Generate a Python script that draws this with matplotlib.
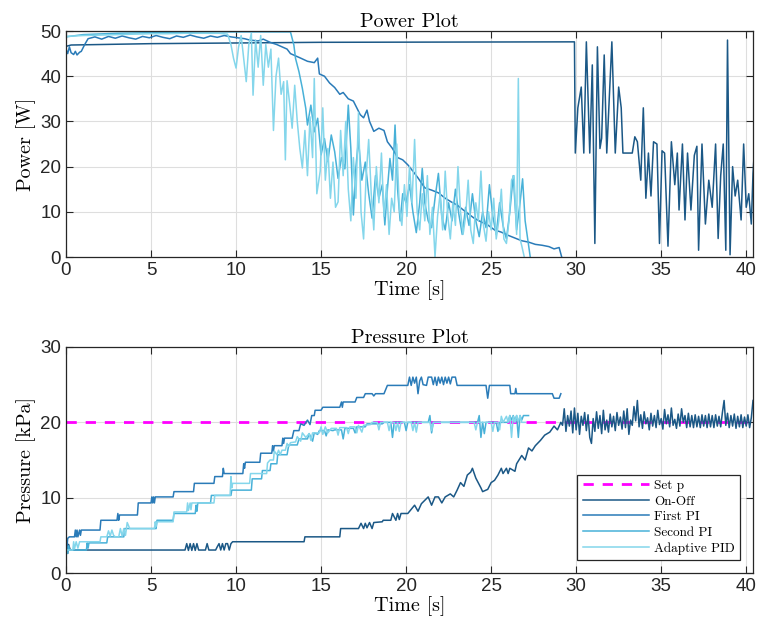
import numpy as np
import matplotlib
matplotlib.use("Agg")
import matplotlib.pyplot as plt

plt.rcParams['font.family'] = ['Liberation Sans', 'DejaVu Sans']
serif = ['cmr10', 'DejaVu Serif']

labels = ["Set p", "On-Off", "First PI", "Second PI", "Adaptive PID"]
colors = ["#ff00ff", "#1b5886", "#2a7bb8", "#48b1d8", "#84d6eb"]
setpoint = 20

# ---------------- Power [W] ----------------
onoff_pw_t = [0, 0.3, 5, 15, 29.9, 29.95, 30.1, 30.3, 30.45, 30.6, 30.8, 30.95, 31.1, 31.25,
              31.4, 31.5, 31.65, 31.8, 32.1, 32.3, 32.5, 32.65, 32.75, 33.3, 33.45, 33.6, 33.8,
              33.95, 34.1, 34.25, 34.4, 34.55, 34.75, 34.9, 35.05, 35.2, 35.4, 35.6, 35.8, 35.95,
              36.05, 36.25, 36.4, 36.55, 36.75, 36.95, 37.1, 37.2, 37.4, 37.6, 37.8, 38.0, 38.2,
              38.35, 38.5, 38.65, 38.8, 38.9, 39.05, 39.2, 39.35, 39.5, 39.7, 39.85, 40.0, 40.15,
              40.3, 40.4, 40.55]
onoff_pw_v = [46.6, 46.9, 47.2, 47.5, 47.6, 23, 33, 37.6, 23, 47.6, 23, 42.5, 3, 46.5,
              24, 26.3, 44.7, 23, 47.6, 23, 37.6, 33, 23, 23, 26.6, 25.5, 17,
              33, 13, 23, 13.5, 25.5, 25, 3, 23.5, 23, 2.4, 25.5, 16, 23,
              10.4, 25, 8.2, 23, 10.4, 22.5, 24.5, 1.5, 25, 7.3, 17, 11, 25,
              4.1, 18, 25, 1.5, 48, 0.5, 20, 13.5, 17, 8.2, 25, 11, 14,
              7.3, 18.5, 27.7]

first_pw_t = [0, 0.1, 0.2, 0.3, 0.45, 0.55, 0.65, 0.8, 0.9, 1.1, 1.3, 1.7, 2.1, 2.5, 2.9, 3.3,
              3.7, 4.1, 4.5, 4.9, 5.3, 5.7, 6.1, 6.5, 6.9, 7.3, 7.7, 8.1, 8.5, 8.9, 9.3, 9.7,
              10.1, 10.5, 10.8, 11.3, 11.6, 12.0, 12.4, 12.7, 13.0, 13.2, 13.5, 13.8, 14.2, 14.6,
              14.8, 14.9, 15.2, 15.5, 15.8, 16.1, 16.3, 16.6, 16.9, 17.1, 17.3, 17.5, 17.7, 17.85,
              18.1, 18.4, 18.7, 18.9, 19.2, 19.5, 19.8, 20.1, 20.4, 20.7, 21.1, 21.5, 21.9, 22.3,
              22.65, 23.0, 23.5, 24.0, 24.4, 24.8, 25.2, 25.6, 26.0, 26.4, 26.8, 27.2, 27.6, 28.0,
              28.4, 28.7, 29.0, 29.15]
first_pw_v = [46.0, 45.0, 46.5, 45.2, 44.8, 45.5, 44.7, 45.3, 45.5, 47.0, 48.3, 48.7, 48.2, 48.8, 48.4, 48.9,
              48.5, 48.2, 48.8, 48.5, 49.0, 48.6, 48.3, 48.9, 48.6, 49.1, 48.7, 48.4, 48.9, 48.6, 49.0, 48.7,
              48.5, 48.3, 48.0, 47.8, 48.2, 47.5, 47.0, 46.5, 46.0, 45.0, 44.5, 44.0, 43.3, 43.0,
              44.0, 40.5, 40.0, 38.5, 37.5, 36.0, 36.4, 35.0, 34.5, 33.0, 31.5, 30.8, 32.5, 30.0,
              27.8, 28.5, 28.0, 25.5, 24.0, 22.0, 21.5, 20.4, 19.0, 17.5, 15.3, 14.8, 14.2, 13.0,
              12.2, 11.5, 10.0, 8.6, 7.8, 7.1, 6.0, 5.5, 4.8, 4.2, 3.6, 3.3, 2.8, 2.6,
              2.3, 1.8, 2.1, 0.0]

second_pw_t = [0, 1, 3, 6, 9, 13.2, 13.4, 13.5, 13.7, 13.9, 14.1, 14.2, 14.4, 14.6, 14.8, 15.0,
               15.2, 15.4, 15.6, 15.8, 16.0, 16.2, 16.4, 16.6, 16.75, 16.9, 17.05, 17.2, 17.4,
               17.6, 17.8, 18.0, 18.2, 18.4, 18.6, 18.75, 18.9, 19.05, 19.2, 19.35, 19.5, 19.65,
               19.8, 20.0, 20.2, 20.4, 20.6, 20.8, 20.95, 21.1, 21.3, 21.5, 21.7, 21.9, 22.1,
               22.3, 22.5, 22.7, 22.9, 23.1, 23.3, 23.5, 23.7, 23.9, 24.1, 24.3, 24.5, 24.7,
               24.9, 25.1, 25.3, 25.5, 25.7, 25.9, 26.1, 26.3, 26.5, 26.7, 26.85, 27.0, 27.3]
second_pw_v = [48.7, 49.2, 49.5, 49.7, 49.8, 49.8, 46.9, 43.9, 41.0, 37.3, 32.9, 29.2, 33.6, 27.7, 30.7, 22.6,
               26.2, 21.1, 27.0, 23.3, 17.4, 22.0, 19.5, 33.6, 24.0, 9.3, 20.0, 26.0, 17.0,
               21.0, 14.0, 8.6, 18.0, 13.0, 16.0, 7.1, 15.0, 21.8, 17.0, 29.2, 15.0, 8.0,
               14.0, 12.0, 16.0, 10.0, 5.4, 12.0, 19.6, 12.0, 8.0, 6.5, 13.0, 18.5, 9.0,
               6.0, 12.0, 8.0, 15.0, 9.5, 5.0, 11.0, 7.0, 14.0, 8.0, 4.5, 10.0, 6.5,
               16.0, 9.0, 5.0, 12.0, 7.0, 4.0, 10.0, 18.0, 6.0, 12.0, 17.3, 8.0, 0.0]

adapt_pw_t = [0, 0.5, 1, 2, 3, 4, 5, 6, 7, 8, 9, 9.5, 9.7, 9.85, 10.0, 10.15, 10.3, 10.45,
              10.6, 10.75, 10.9, 11.0, 11.15, 11.3, 11.45, 11.6, 11.75, 11.9, 12.05, 12.2, 12.35,
              12.5, 12.65, 12.8, 12.9, 13.0, 13.15, 13.3, 13.45, 13.6, 13.75, 13.9, 14.05, 14.2,
              14.35, 14.5, 14.6, 14.75, 14.95, 15.1, 15.25, 15.4, 15.55, 15.7, 15.85, 16.0, 16.15,
              16.3, 16.45, 16.6, 16.75, 16.9, 17.05, 17.2, 17.35, 17.5, 17.65, 17.8, 17.95, 18.1,
              18.25, 18.4, 18.55, 18.7, 18.85, 19.0, 19.15, 19.3, 19.45, 19.6, 19.75, 19.9, 20.05,
              20.2, 20.35, 20.5, 20.65, 20.8, 20.95, 21.1, 21.25, 21.4, 21.55, 21.7, 21.85, 22.0,
              22.15, 22.3, 22.45, 22.6, 22.75, 22.9, 23.05, 23.2, 23.35, 23.5, 23.65, 23.8, 23.95,
              24.1, 24.25, 24.4, 24.55, 24.7, 24.85, 25.0, 25.15, 25.3, 25.45, 25.6, 25.75, 25.9,
              26.05, 26.2, 26.35, 26.5, 26.6, 26.7, 26.8, 26.95]
adapt_pw_v = [48.8, 48.9, 49.0, 49.1, 49.2, 49.3, 49.4, 49.4, 49.5, 49.5, 49.5, 49.3, 47.0, 44.0, 41.8, 46.5, 49.0, 44.0,
              38.8, 47.0, 49.5, 35.8, 48.0, 42.0, 49.0, 38.0, 47.0, 42.0, 46.0, 28.0, 40.0,
              44.0, 36.0, 38.8, 21.5, 39.0, 34.0, 28.5, 38.0, 30.0, 24.0, 19.7, 28.0, 18.0,
              31.0, 22.0, 39.5, 14.0, 19.0, 33.0, 17.0, 24.0, 13.0, 21.0, 11.0, 12.2, 28.0,
              18.0, 30.0, 15.0, 8.0, 22.0, 13.0, 32.0, 10.0, 4.0, 18.0, 26.0, 14.0, 6.0,
              20.0, 12.0, 23.0, 9.0, 16.0, 5.0, 13.0, 10.0, 25.0, 11.0, 7.0, 16.0, 9.0,
              20.0, 12.0, 26.0, 10.0, 6.0, 14.0, 8.0, 18.0, 5.0, 11.0, 0.0, 9.0, 14.0,
              6.0, 19.0, 9.0, 4.0, 12.0, 7.0, 20.0, 10.0, 5.0, 9.0, 17.0, 6.0, 3.0,
              12.0, 8.0, 19.0, 7.0, 3.5, 10.0, 6.0, 13.0, 4.0, 8.0, 15.0, 4.0, 3.0,
              8.0, 17.0, 18.0, 5.0, 39.5, 4.0, 2.5, 0.0]

# ---------------- Pressure [kPa] ----------------
onoff_pr_t = [0, 0.05, 0.1, 0.15, 0.25, 7.0, 7.1, 7.2, 7.3, 7.4, 7.5, 7.6, 7.7, 7.8, 8.2, 8.3, 8.4,
              8.8, 8.9, 9.0, 9.1, 9.2, 9.3, 9.4, 9.5, 9.6, 9.7, 9.8, 14.0, 14.05, 16.1, 16.15,
              17.2, 17.35, 17.5, 17.6, 17.7, 17.85, 18.0, 18.1, 18.6, 18.65, 19.1, 19.2, 19.4,
              19.5, 19.6, 19.7, 20.1, 20.5, 20.7, 20.9, 21.3, 21.5, 21.7, 21.9, 22.1, 22.3,
              22.6, 22.8, 23.0, 23.2, 23.4, 23.6, 23.8, 23.9, 24.1, 24.4, 24.5, 24.8, 25.0,
              25.2, 25.4, 25.6, 25.7, 25.9, 26.0, 26.1, 26.4, 26.5, 26.8, 27.0, 27.2, 27.4,
              27.6, 27.9, 28.15, 28.45, 28.7, 28.9, 29.1, 29.2, 29.3, 29.4, 29.5]
onoff_pr_v = [2.5, 4.0, 2.6, 3.8, 3.05, 3.05, 3.9, 3.0, 3.9, 3.0, 3.9, 3.0, 3.9, 3.05, 3.05, 3.9, 3.05,
              3.05, 3.5, 3.9, 3.05, 3.9, 3.05, 3.9, 3.9, 3.05, 3.9, 4.15, 4.15, 4.8, 4.8, 5.9,
              5.9, 6.6, 5.9, 6.6, 6.0, 6.7, 5.9, 6.7, 6.8, 7.0, 7.0, 7.9, 7.0,
              7.9, 7.1, 7.9, 7.9, 9.0, 8.2, 9.2, 10.1, 9.0, 10.1, 10.1, 9.3, 10.1,
              10.5, 10.1, 11.0, 12.0, 11.5, 13.0, 13.4, 13.9, 12.6, 11.3, 10.8, 11.1, 12.0,
              12.3, 13.0, 13.9, 13.2, 13.9, 13.2, 13.9, 13.5, 14.5, 15.6, 15.0, 16.6, 16.2,
              16.9, 17.6, 18.3, 18.7, 19.5, 19.0, 20.0, 19.6, 21.8, 18.8, 20.9]
# sampled every 0.1 s from 29.6 s to 40.4 s
onoff_pr_tail = [19.5, 21.5, 18.6, 21.9, 19.0, 21.2, 18.4, 20.8, 19.6, 21.3,
                 18.9, 21.0, 18.0, 17.2, 20.5, 18.8, 21.4, 19.2, 20.9, 18.5,
                 21.6, 19.0, 20.3, 18.7, 21.1, 19.4, 20.8, 18.9, 21.3, 19.6,
                 20.7, 19.1, 21.5, 19.3, 21.8, 18.4, 20.3, 19.6, 22.1, 20.2,
                 22.9, 19.4, 21.0, 19.2, 21.4, 19.8, 20.6, 19.0, 21.2, 19.5,
                 20.9, 19.3, 21.6, 19.7, 20.5, 19.1, 21.7, 19.8, 21.0, 19.4,
                 21.9, 19.6, 20.4, 19.2, 21.1, 19.5, 21.8, 20.0, 20.9, 19.3,
                 21.2, 19.4, 20.9, 19.3, 21.0, 19.4, 20.8, 19.3, 21.0, 19.5,
                 20.9, 19.3, 21.1, 19.4, 20.9, 19.3, 21.0, 19.5, 20.8, 19.4,
                 21.3, 22.9, 19.6, 21.2, 19.3, 20.9, 19.5, 21.1, 19.2, 20.8,
                 19.4, 21.0, 19.3, 20.7, 19.5, 21.0, 19.3, 20.6, 22.9]

first_pr_t = [0, 0.05, 0.1, 0.2, 0.5, 0.55, 0.6, 0.65, 0.7, 0.8, 0.85, 0.9, 2.0, 2.05, 3.0, 3.05,
              3.1, 3.15, 4.2, 4.25, 5.0, 5.05, 5.1, 5.15, 5.2, 5.25, 6.3, 6.35, 7.5, 7.55, 8.7,
              8.75, 9.2, 9.25, 9.3, 10.4, 10.45, 10.5, 10.55, 11.4, 11.45, 12.1, 12.15, 12.2,
              12.25, 12.7, 12.75, 12.8, 12.85, 13.3, 13.4, 13.7, 13.8, 14.0, 14.2, 14.35, 14.45,
              14.6, 14.65, 15.0, 15.1, 16.1, 16.2, 16.25, 16.3, 17.0, 17.1, 17.5, 17.6, 18.0,
              18.1, 18.2, 18.7, 18.9, 20.1, 20.2, 20.3, 20.4, 20.5, 20.6, 20.7, 20.8, 20.9, 21.0,
              21.2, 21.3, 21.5, 21.6, 21.7, 21.8, 21.9, 22.0, 22.1, 22.2, 22.3, 22.4, 22.5, 22.6,
              22.7, 22.9, 23.0, 24.7, 24.8, 24.9, 26.1, 26.15, 26.4, 26.45, 26.5, 28.6, 28.7,
              29.0, 29.1]
first_pr_v = [4.0, 3.2, 4.6, 4.8, 4.8, 5.7, 4.8, 5.7, 4.8, 5.7, 5.0, 5.7, 5.7, 7.0, 7.0, 7.9,
              7.0, 7.7, 7.7, 9.3, 9.3, 10.1, 9.3, 10.1, 9.3, 10.1, 10.1, 10.8, 10.8, 11.9, 11.9,
              12.8, 12.8, 13.9, 13.2, 13.2, 14.5, 13.9, 14.7, 14.7, 15.9, 15.9, 16.9, 16.2,
              16.9, 16.9, 17.9, 17.2, 17.9, 17.9, 18.9, 18.9, 19.8, 19.6, 20.3, 19.7, 20.9,
              20.9, 21.6, 21.6, 22.0, 22.0, 22.7, 22.0, 22.7, 22.7, 23.3, 23.3, 23.8, 23.8,
              23.5, 23.8, 23.8, 24.9, 24.9, 26.0, 24.9, 26.0, 25.2, 26.0, 23.8, 25.5, 26.0, 25.0,
              24.9, 26.0, 26.0, 25.0, 26.0, 24.9, 26.0, 25.2, 26.0, 25.0, 26.0, 25.2, 26.0, 25.1,
              26.0, 26.0, 24.9, 24.9, 23.2, 24.9, 24.9, 23.8, 23.8, 24.5, 23.8, 23.8, 23.2,
              23.2, 23.8]

second_pr_t = [0, 0.1, 0.15, 0.2, 1.2, 1.25, 1.3, 1.35, 2.4, 2.45, 3.4, 3.45, 5.3, 5.35, 6.3,
               6.35, 7.6, 7.65, 7.7, 7.75, 7.8, 8.5, 8.55, 9.7, 9.75, 10.9, 10.95, 11.5, 11.55,
               12.0, 12.05, 12.4, 12.45, 13.0, 13.1, 13.6, 13.7, 14.2, 14.3, 14.5, 14.6, 14.8,
               14.9, 15.2, 15.3, 15.4, 15.7, 15.8, 16.2, 16.3, 16.4, 16.9, 17.0, 17.1, 17.6, 17.7,
               18.6, 18.7, 19.1, 19.2, 19.3, 19.9, 20.0, 20.1, 21.3, 21.4, 21.5, 21.6, 24.2, 24.3,
               24.4, 24.5, 24.6, 24.7, 25.3, 25.4, 25.5, 26.0, 26.1, 26.2, 26.3, 26.4, 26.5, 26.6,
               26.7, 26.8, 26.9, 27.2]
second_pr_v = [3.05, 2.6, 3.6, 3.05, 3.05, 4.0, 3.3, 4.0, 4.0, 4.8, 4.8, 5.9, 5.9, 7.0, 7.0,
               7.9, 7.9, 9.0, 8.2, 9.3, 9.3, 9.3, 10.3, 10.3, 11.0, 11.0, 12.5, 12.5, 13.6,
               13.6, 14.5, 14.5, 15.7, 15.7, 17.0, 17.0, 17.8, 17.8, 18.5, 17.5, 18.6, 18.4,
               18.9, 18.9, 18.2, 19.0, 18.9, 19.0, 19.0, 17.8, 19.2, 19.2, 18.6, 19.4, 19.4, 19.8,
               19.8, 20.0, 20.0, 18.0, 20.0, 20.0, 18.9, 20.0, 20.0, 20.9, 18.6, 20.0, 20.0, 20.9,
               18.0, 20.0, 18.5, 20.0, 20.0, 18.8, 20.0, 20.0, 20.9, 20.3, 20.9, 20.2, 20.9, 18.0,
               20.9, 20.3, 20.9, 20.9]

adapt_pr_t = [0, 0.4, 0.45, 0.5, 0.6, 0.7, 0.8, 2.0, 2.05, 2.4, 2.5, 2.6, 2.7, 2.8, 2.9, 3.1,
              3.2, 3.3, 3.4, 3.5, 3.6, 3.75, 5.2, 5.25, 5.3, 5.35, 6.3, 6.35, 7.1, 7.15, 7.2,
              7.3, 7.35, 7.4, 8.7, 8.75, 9.65, 9.7, 9.75, 9.8, 10.8, 10.85, 11.8, 11.85, 12.0,
              12.2, 12.25, 12.4, 12.5, 12.6, 12.7, 12.9, 13.0, 13.1, 13.2, 13.5, 13.6, 13.8,
              13.9, 14.1, 14.3, 14.4, 14.5, 14.9, 15.0, 15.1, 15.25, 15.4, 15.6, 15.9, 16.0,
              16.1, 16.5, 16.6, 16.7, 17.0, 17.1, 17.2, 17.4, 17.5, 17.9, 18.0, 18.3, 18.4,
              18.5, 18.9, 19.0, 19.1, 19.3, 19.4, 19.5, 19.6, 19.7, 20.3, 20.4, 20.5, 20.6,
              20.7, 21.4, 21.5, 21.6, 24.0, 24.1, 24.2, 25.0, 25.1, 25.2, 25.4, 25.5, 25.6,
              25.7, 25.9, 26.0, 26.1, 26.2, 26.3, 26.4, 26.5, 26.6, 26.7, 26.8, 27.0]
adapt_pr_v = [3.05, 3.05, 4.15, 3.2, 4.15, 3.3, 4.15, 4.15, 4.8, 4.8, 5.6, 4.9, 5.7, 5.0, 4.8, 4.8,
              5.9, 4.9, 5.9, 5.0, 6.7, 5.9, 5.9, 6.8, 6.2, 6.8, 6.8, 8.1, 8.1, 9.3, 8.3,
              9.3, 8.4, 9.3, 9.3, 10.3, 10.3, 12.8, 11.3, 11.9, 11.9, 13.2, 13.2, 14.6, 15.0,
              15.0, 16.2, 15.7, 16.3, 15.7, 16.3, 16.3, 17.2, 16.8, 17.3, 17.4, 18.1, 17.5,
              18.6, 18.0, 18.5, 17.6, 18.6, 18.6, 19.4, 18.4, 19.4, 18.6, 19.2, 19.2, 18.3,
              19.3, 19.3, 18.5, 19.4, 19.4, 18.6, 19.6, 18.7, 19.6, 19.7, 20.0, 20.0, 19.0,
              20.0, 20.0, 18.9, 20.0, 20.0, 18.9, 20.0, 18.8, 20.0, 20.0, 18.9, 20.0, 18.7,
              20.0, 20.0, 18.9, 20.0, 20.0, 19.0, 20.0, 20.0, 18.8, 20.0, 20.0, 19.0, 20.8,
              20.0, 20.8, 20.0, 20.9, 18.0, 20.8, 20.0, 20.9, 20.1, 20.9, 20.0, 20.0]

t_end = 40.4
onoff_pr_t = onoff_pr_t + list(np.round(np.arange(29.6, 40.45, 0.1), 2))
onoff_pr_v = onoff_pr_v + onoff_pr_tail

fig = plt.figure(figsize=(7.62, 6.34), dpi=100)
ax1 = fig.add_axes([0.0866, 0.5946, 0.9016, 0.3565])
ax2 = fig.add_axes([0.0866, 0.0962, 0.9016, 0.3565])

lw = 1.1
ax1.plot(onoff_pw_t, onoff_pw_v, color=colors[1], lw=lw)
ax1.plot(first_pw_t, first_pw_v, color=colors[2], lw=lw)
ax1.plot(second_pw_t, second_pw_v, color=colors[3], lw=lw)
ax1.plot(adapt_pw_t, adapt_pw_v, color=colors[4], lw=lw)

ax2.plot([0, t_end], [setpoint, setpoint], color=colors[0], lw=2, dashes=(3.7, 3.2), label=labels[0])
ax2.plot(onoff_pr_t, onoff_pr_v, color=colors[1], lw=lw, label=labels[1])
ax2.plot(first_pr_t, first_pr_v, color=colors[2], lw=lw, label=labels[2])
ax2.plot(second_pr_t, second_pr_v, color=colors[3], lw=lw, label=labels[3])
ax2.plot(adapt_pr_t, adapt_pr_v, color=colors[4], lw=lw, label=labels[4])

for ax, title, ylab, ymax in [(ax1, "Power Plot", "Power [W]", 50),
                              (ax2, "Pressure Plot", "Pressure [kPa]", 30)]:
    ax.set_xlim(0, t_end)
    ax.set_ylim(0, ymax)
    ax.set_xticks(range(0, 41, 5))
    ax.set_yticks(range(0, ymax + 1, 10))
    ax.grid(True, color="#dedede", lw=0.8)
    ax.set_axisbelow(True)
    ax.tick_params(direction="in", top=True, right=True, length=5, width=0.8,
                   labelsize=13.5, colors="#262626")
    for s in ax.spines.values():
        s.set_color("#262626")
        s.set_linewidth(0.9)
    ax.set_title(title, family=serif, fontsize=14.5, pad=3)
    ax.set_xlabel("Time [s]", family=serif, fontsize=14.5, labelpad=1)
    ax.set_ylabel(ylab, family=serif, fontsize=14.5, labelpad=3)

leg = ax2.legend(loc="lower right", prop={"family": serif, "size": 9.5}, fancybox=False,
                 framealpha=1, edgecolor="#262626", handlelength=5, handletextpad=0.4,
                 labelspacing=0.25, borderaxespad=1.0)
leg.get_frame().set_linewidth(0.9)

fig.savefig("out.png", dpi=100)
